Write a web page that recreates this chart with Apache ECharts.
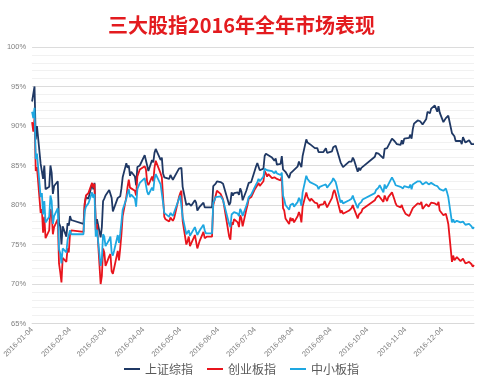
<!DOCTYPE html>
<html>
<head>
<meta charset="utf-8">
<script src="https://cdn.jsdelivr.net/npm/echarts@6/dist/echarts.min.js"></script>
<style>
html,body{margin:0;padding:0;background:#fff;}
#chart{width:483px;height:391px;}
</style>
</head>
<body>
<div id="chart"></div>
<script>
const titleText = '三大股指2016年全年市场表现';
const seriesNames = ['上证综指', '创业板指', '中小板指'];
const xTickLabels = ['2016-01-04','2016-02-04','2016-03-04','2016-04-04','2016-05-04','2016-06-04','2016-07-04','2016-08-04','2016-09-04','2016-10-04','2016-11-04','2016-12-04'];

const dates = [
'2016-01-04','2016-01-05','2016-01-06','2016-01-07','2016-01-08','2016-01-11','2016-01-12','2016-01-13','2016-01-14','2016-01-15',
'2016-01-18','2016-01-19','2016-01-20','2016-01-21','2016-01-22','2016-01-25','2016-01-26','2016-01-27','2016-01-28','2016-01-29',
'2016-02-01','2016-02-02','2016-02-03','2016-02-04','2016-02-05','2016-02-15','2016-02-16','2016-02-17','2016-02-18','2016-02-19',
'2016-02-22','2016-02-23','2016-02-24','2016-02-25','2016-02-26','2016-02-29','2016-03-01','2016-03-02','2016-03-03','2016-03-04',
'2016-03-07','2016-03-08','2016-03-09','2016-03-10','2016-03-11','2016-03-14','2016-03-15','2016-03-16','2016-03-17','2016-03-18',
'2016-03-21','2016-03-22','2016-03-23','2016-03-24','2016-03-25','2016-03-28','2016-03-29','2016-03-30','2016-03-31','2016-04-01',
'2016-04-05','2016-04-06','2016-04-07','2016-04-08','2016-04-11','2016-04-12','2016-04-13','2016-04-14','2016-04-15','2016-04-18',
'2016-04-19','2016-04-20','2016-04-21','2016-04-22','2016-04-25','2016-04-26','2016-04-27','2016-04-28','2016-04-29','2016-05-03',
'2016-05-04','2016-05-05','2016-05-06','2016-05-09','2016-05-10','2016-05-11','2016-05-12','2016-05-13','2016-05-16','2016-05-17',
'2016-05-18','2016-05-19','2016-05-20','2016-05-23','2016-05-24','2016-05-25','2016-05-26','2016-05-27','2016-05-30','2016-05-31',
'2016-06-01','2016-06-02','2016-06-03','2016-06-06','2016-06-07','2016-06-08','2016-06-13','2016-06-14','2016-06-15','2016-06-16',
'2016-06-17','2016-06-20','2016-06-21','2016-06-22','2016-06-23','2016-06-24','2016-06-27','2016-06-28','2016-06-29','2016-06-30',
'2016-07-01','2016-07-04','2016-07-05','2016-07-06','2016-07-07','2016-07-08','2016-07-11','2016-07-12','2016-07-13','2016-07-14',
'2016-07-15','2016-07-18','2016-07-19','2016-07-20','2016-07-21','2016-07-22','2016-07-25','2016-07-26','2016-07-27','2016-07-28',
'2016-07-29','2016-08-01','2016-08-02','2016-08-03','2016-08-04','2016-08-05','2016-08-08','2016-08-09','2016-08-10','2016-08-11',
'2016-08-12','2016-08-15','2016-08-16','2016-08-17','2016-08-18','2016-08-19','2016-08-22','2016-08-23','2016-08-24','2016-08-25',
'2016-08-26','2016-08-29','2016-08-30','2016-08-31','2016-09-01','2016-09-02','2016-09-05','2016-09-06','2016-09-07','2016-09-08',
'2016-09-09','2016-09-12','2016-09-13','2016-09-14','2016-09-19','2016-09-20','2016-09-21','2016-09-22','2016-09-23','2016-09-26',
'2016-09-27','2016-09-28','2016-09-29','2016-09-30','2016-10-10','2016-10-11','2016-10-12','2016-10-13','2016-10-14','2016-10-17',
'2016-10-18','2016-10-19','2016-10-20','2016-10-21','2016-10-24','2016-10-25','2016-10-26','2016-10-27','2016-10-28','2016-10-31',
'2016-11-01','2016-11-02','2016-11-03','2016-11-04','2016-11-07','2016-11-08','2016-11-09','2016-11-10','2016-11-11','2016-11-14',
'2016-11-15','2016-11-16','2016-11-17','2016-11-18','2016-11-21','2016-11-22','2016-11-23','2016-11-24','2016-11-25','2016-11-28',
'2016-11-29','2016-11-30','2016-12-01','2016-12-02','2016-12-05','2016-12-06','2016-12-07','2016-12-08','2016-12-09','2016-12-12',
'2016-12-13','2016-12-14','2016-12-15','2016-12-16','2016-12-19','2016-12-20','2016-12-21','2016-12-22','2016-12-23','2016-12-26',
'2016-12-27','2016-12-28','2016-12-29','2016-12-30'
];

// 上证综指 (% of 2015 year-end level)
const shValues = [
93.1,92.9,95.0,88.3,90.0,85.2,85.4,83.3,85.0,82.0,
82.3,85.0,84.1,81.4,82.4,83.0,77.7,77.3,75.0,77.3,
76.0,77.7,77.4,78.6,78.1,77.6,80.1,81.0,80.9,80.8,
82.7,82.0,82.8,77.5,78.2,75.9,77.2,80.5,80.8,81.2,
81.9,82.0,80.9,79.2,79.4,80.9,80.9,81.1,82.1,83.5,
85.3,84.7,85.0,83.7,84.2,83.6,82.5,84.8,84.9,85.0,
86.3,86.2,85.0,84.3,85.7,85.4,86.6,87.1,87.0,85.7,
86.0,84.0,83.5,83.6,83.3,83.8,83.5,83.2,83.0,84.6,
84.5,84.7,82.3,80.0,80.0,80.2,80.1,79.9,80.6,80.3,
79.3,79.3,79.8,80.3,79.7,79.5,79.7,79.7,79.7,82.4,
82.3,82.7,83.0,82.9,83.0,82.7,80.0,80.3,81.6,81.2,
81.5,81.6,81.3,82.1,81.7,80.6,81.8,82.3,82.8,82.8,
82.9,84.4,84.9,85.3,85.2,84.4,84.6,86.2,86.5,86.3,
86.3,86.0,85.8,85.6,85.9,85.1,85.2,86.2,84.5,84.6,
84.2,83.4,84.0,84.2,84.3,84.1,84.9,85.5,85.3,84.8,
86.2,88.3,87.9,87.9,87.7,87.8,87.2,87.3,87.2,86.7,
86.8,86.7,86.9,87.2,86.6,86.7,86.8,87.3,87.4,87.5,
87.0,85.4,85.4,84.8,85.5,85.4,85.5,86.0,85.7,84.2,
84.7,84.4,84.7,84.9,86.1,86.6,86.4,86.5,86.6,85.9,
87.1,87.2,87.2,87.3,88.4,88.5,88.1,87.9,87.7,87.6,
88.2,87.7,88.4,88.3,88.5,88.9,88.4,89.6,90.3,90.7,
90.6,90.6,90.7,90.2,90.9,91.8,91.6,91.6,92.2,92.6,
92.8,91.8,92.5,91.7,90.5,90.4,91.0,90.9,91.3,89.1,
89.1,88.7,88.1,88.2,88.1,87.7,88.6,88.7,87.9,88.2,
88.0,87.7,87.5,87.7
];

// 创业板指
const cyValues = [
90.5,89.3,91.0,84.3,84.8,79.0,79.5,76.5,78.5,75.8,
76.8,79.5,79.0,76.3,77.2,78.2,72.6,71.5,70.2,73.3,
72.8,74.5,74.0,76.4,76.8,76.6,80.2,81.2,81.0,81.5,
82.8,82.2,82.7,76.8,77.6,70.0,71.0,74.5,74.0,72.3,
73.5,73.8,71.6,71.3,72.0,74.2,73.0,74.5,76.3,78.6,
81.0,82.3,83.2,82.2,82.4,81.8,81.2,83.6,83.8,84.5,
84.9,84.5,82.9,82.5,83.6,83.0,84.7,85.6,85.4,84.0,
83.5,81.0,78.5,78.2,77.9,78.4,78.3,78.0,78.3,81.0,
81.5,81.8,78.0,75.0,75.4,76.0,74.8,74.6,76.2,76.0,
74.5,74.6,75.5,76.6,75.8,75.6,76.0,75.9,76.0,80.0,
80.6,81.2,81.8,81.4,81.2,80.7,76.0,75.6,77.8,77.5,
78.2,77.8,77.2,78.7,78.3,77.3,79.4,80.0,80.8,80.7,
81.0,82.0,82.2,82.5,82.8,82.4,83.0,84.3,84.0,83.6,
83.9,83.4,83.6,83.5,83.7,83.3,83.1,83.6,79.6,79.3,
78.3,77.6,78.4,78.0,78.3,77.8,78.6,79.1,78.7,77.8,
79.8,81.6,81.0,80.9,80.5,80.8,80.3,80.5,80.2,79.6,
80.0,80.1,80.5,80.4,79.7,79.9,80.9,81.6,81.9,81.4,
80.8,79.0,79.3,78.9,79.3,79.4,79.6,80.0,79.5,78.3,
78.8,78.7,79.1,79.5,80.6,80.9,81.0,81.2,81.4,80.4,
81.2,80.8,80.5,81.0,81.6,81.4,80.7,80.2,79.9,79.7,
80.0,79.5,79.7,78.9,78.6,78.9,78.8,79.6,79.8,80.2,
80.4,80.1,80.4,79.5,80.1,80.3,79.8,79.9,80.3,80.2,
80.4,80.0,80.4,79.3,78.7,78.5,78.9,78.3,77.6,72.8,
73.6,73.0,73.1,73.4,72.9,72.8,73.2,73.0,72.6,72.8,
72.6,72.5,72.2,72.4
];

// 中小板指
const zxValues = [
91.8,91.0,92.3,85.8,86.5,81.0,81.5,78.8,80.5,77.8,
78.5,81.2,80.5,77.6,78.6,79.6,74.4,73.9,72.6,74.5,
74.0,75.6,75.4,76.8,76.3,76.3,79.2,79.8,79.8,80.2,
81.6,80.9,81.4,76.0,76.9,72.3,73.2,76.3,76.0,74.8,
75.6,76.0,74.0,73.6,74.2,76.2,75.2,76.4,77.8,79.4,
80.8,81.5,82.0,81.0,81.3,80.8,79.8,82.0,82.2,82.8,
83.4,83.2,81.7,81.3,82.2,81.8,83.3,83.9,83.8,82.6,
82.4,80.3,79.0,78.8,78.5,79.0,78.8,78.6,78.7,80.8,
81.2,81.3,78.5,76.3,76.4,76.8,76.1,76.0,77.2,77.4,
76.2,76.3,76.8,77.5,76.8,76.4,76.6,76.4,76.4,80.3,
80.6,81.0,81.2,81.1,81.0,80.6,77.6,77.2,78.8,78.6,
79.1,78.9,78.6,79.5,79.2,78.6,79.9,80.4,81.0,81.0,
81.3,82.3,82.6,82.9,83.3,83.0,83.6,84.6,84.6,84.4,
84.6,84.3,84.2,84.0,84.3,84.0,83.8,84.1,81.2,80.7,
80.0,79.4,80.0,80.0,80.2,79.8,80.4,80.9,80.6,79.9,
81.6,83.7,83.3,83.2,82.9,83.0,82.6,82.6,82.4,82.0,
82.3,82.5,82.6,82.6,82.2,82.3,83.0,83.4,83.3,82.9,
82.3,80.3,80.6,80.2,80.6,80.6,80.8,81.2,80.7,79.6,
80.1,80.0,80.4,80.7,81.5,81.9,81.8,82.2,82.5,81.6,
82.6,82.1,82.2,82.6,83.5,83.4,82.9,82.5,82.3,82.3,
82.5,82.1,82.4,82.4,82.2,82.6,82.0,82.6,82.8,83.0,
83.2,83.0,83.1,82.6,82.9,82.9,82.6,82.6,82.8,82.5,
82.7,82.4,82.6,82.0,81.8,81.9,82.1,81.6,81.0,77.8,
78.2,77.8,77.7,78.0,77.8,77.6,77.9,77.8,77.5,77.6,
77.5,77.3,77.0,77.2
];

const colors = ['#1f3864', '#e8141c', '#1ea7e1'];
const valueSets = [shValues, cyValues, zxValues];

const chart = echarts.init(document.getElementById('chart'), null, {renderer: 'canvas'});
chart.setOption({
  animation: false,
  backgroundColor: '#ffffff',
  title: {
    text: titleText,
    left: 'center',
    top: 10,
    textStyle: {
      color: '#e31b1f',
      fontSize: 20,
      fontWeight: 'bold',
      fontFamily: '"Noto Sans CJK SC", sans-serif'
    }
  },
  legend: {
    data: seriesNames,
    bottom: 11,
    left: 'center',
    icon: 'rect',
    itemWidth: 16,
    itemHeight: 2,
    itemGap: 14,
    textStyle: {
      color: '#595959',
      fontSize: 12,
      fontFamily: '"Noto Sans CJK SC", sans-serif'
    }
  },
  grid: {
    left: 32,
    right: 9,
    top: 47,
    bottom: 67.5,
    containLabel: false
  },
  xAxis: {
    type: 'time',
    min: '2016-01-04',
    max: '2016-12-30',
    axisLine: {show: true, lineStyle: {color: '#d9d9d9', width: 1}},
    axisTick: {show: false},
    splitLine: {show: false},
    axisLabel: {
      customValues: xTickLabels,
      formatter: '{yyyy}-{MM}-{dd}',
      rotate: 45,
      fontSize: 7.5,
      color: '#7f7f7f',
      margin: 5,
      fontFamily: '"Liberation Sans", sans-serif',
      hideOverlap: false
    }
  },
  yAxis: {
    type: 'value',
    min: 65,
    max: 100,
    interval: 5,
    axisLine: {show: false},
    axisTick: {show: false},
    axisLabel: {
      formatter: '{value}%',
      fontSize: 7.5,
      color: '#7f7f7f',
      margin: 6,
      fontFamily: '"Liberation Sans", sans-serif'
    },
    splitLine: {show: true, lineStyle: {color: '#dcdcdc', width: 1}},
    minorTick: {show: false, splitNumber: 5},
    minorSplitLine: {show: true, lineStyle: {color: '#f1f1f1', width: 1}}
  },
  series: seriesNames.map((name, k) => ({
    name: name,
    type: 'line',
    data: dates.map((d, i) => [d, valueSets[k][i]]),
    showSymbol: false,
    symbol: 'none',
    lineStyle: {color: colors[k], width: 1.8},
    itemStyle: {color: colors[k]},
    z: 2 + k
  }))
});
</script>
</body>
</html>
